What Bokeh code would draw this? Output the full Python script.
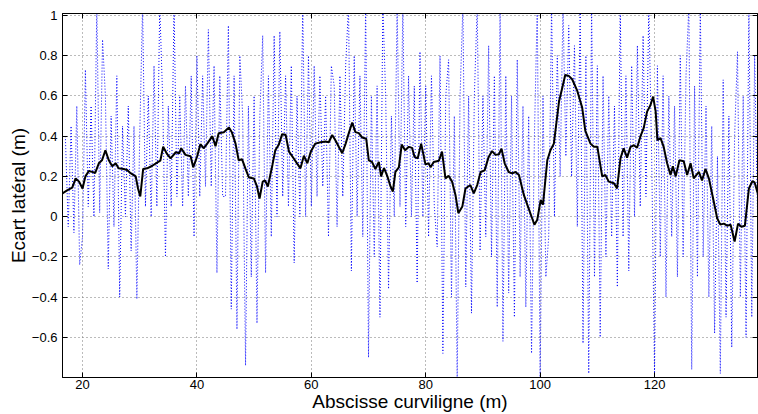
from bokeh.plotting import figure
from bokeh.models import Range1d, LinearAxis, FixedTicker
from bokeh.embed import file_html
from bokeh.resources import INLINE

# Smoothed lateral deviation (black solid)
bx = [16.5, 17.3, 18.2, 18.8, 19.4, 20.0, 20.5, 21.1, 22.0, 22.2, 22.85, 23.4, 24.0, 24.6, 25.2, 25.8,
      26.3, 27.2, 27.8, 28.4, 29.3, 29.7, 30.1, 30.6, 31.3, 32.2, 33.1, 33.6, 34.1, 34.7, 35.4, 36.3,
      36.9, 37.25, 38.0, 38.9, 39.35, 40.05, 40.6, 41.2, 41.8, 42.7, 43.25, 43.8, 44.7, 45.6, 46.1,
      46.75, 47.3, 47.9, 48.5, 49.1, 49.95, 50.5, 50.95, 51.5, 51.9, 52.4, 53.2, 53.7, 54.3, 54.9,
      55.5, 56.1, 56.9, 57.5, 58.1, 58.7, 59.3, 59.9, 60.7, 61.6, 62.5, 63.05, 63.65, 64.2, 64.8,
      65.4, 66.0, 66.55, 67.15, 67.7, 68.3, 68.9, 69.6, 70.05, 70.6, 71.2, 71.8, 72.2, 72.7, 73.3,
      73.85, 74.25, 74.7, 75.3, 75.8, 76.4, 77.05, 77.6, 78.05, 78.6, 79.2, 79.95, 80.5, 80.85, 81.4,
      82.3, 82.85, 83.45, 84.0, 84.6, 85.2, 85.7, 86.4, 86.95, 87.8, 88.4, 89.0, 89.6, 90.3, 91.0,
      91.6, 92.2, 92.8, 93.25, 93.8, 94.5, 95.1, 95.7, 96.3, 97.15, 98.0, 98.6, 99.0, 99.5, 100.1,
      100.5, 101.25, 101.8, 102.4, 103.3, 103.85, 104.4, 105.0, 105.6, 106.5, 107.35, 107.9, 108.8,
      109.4, 110.0, 110.85, 111.4, 112.0, 112.9, 113.45, 114.05, 114.6, 115.2, 115.8, 116.4, 116.95,
      117.55, 118.1, 118.7, 119.3, 119.75, 120.2, 120.5, 121.05, 121.6, 122.2, 122.8, 123.2, 123.7,
      124.35, 125.1, 125.7, 126.3, 126.85, 127.75, 128.3, 128.9, 129.5, 130.35, 130.95, 131.5,
      132.1, 132.7, 133.3, 134.0, 134.6, 135.2, 135.8, 136.5, 137.1, 137.5, 138.1]
by = [0.116, 0.13, 0.144, 0.19, 0.174, 0.14, 0.2, 0.227, 0.22, 0.216, 0.265, 0.28, 0.33, 0.28, 0.25,
      0.265, 0.24, 0.237, 0.232, 0.216, 0.2, 0.14, 0.1, 0.237, 0.24, 0.253, 0.27, 0.278, 0.348, 0.315,
      0.29, 0.32, 0.315, 0.34, 0.307, 0.3, 0.245, 0.3, 0.36, 0.34, 0.363, 0.4, 0.35, 0.415, 0.42,
      0.443, 0.42, 0.363, 0.28, 0.285, 0.237, 0.194, 0.19, 0.15, 0.09, 0.174, 0.18, 0.15, 0.257, 0.33,
      0.357, 0.41, 0.407, 0.323, 0.29, 0.265, 0.24, 0.303, 0.265, 0.323, 0.363, 0.37, 0.373, 0.37,
      0.406, 0.38, 0.347, 0.315, 0.363, 0.415, 0.468, 0.42, 0.415, 0.393, 0.387, 0.28, 0.272, 0.237,
      0.272, 0.2, 0.242, 0.2, 0.15, 0.124, 0.222, 0.245, 0.358, 0.33, 0.347, 0.342, 0.297, 0.29, 0.363,
      0.26, 0.265, 0.245, 0.272, 0.278, 0.323, 0.19, 0.203, 0.174, 0.108, 0.017, 0.05, 0.14, 0.157,
      0.116, 0.157, 0.222, 0.23, 0.297, 0.326, 0.307, 0.31, 0.338, 0.265, 0.222, 0.215, 0.222, 0.207,
      0.108, 0.04, -0.008, -0.04, -0.015, 0.083, 0.06, 0.28, 0.33, 0.363, 0.572, 0.638, 0.705, 0.7,
      0.683, 0.625, 0.542, 0.426, 0.363, 0.347, 0.347, 0.2, 0.207, 0.174, 0.166, 0.14, 0.29, 0.34,
      0.293, 0.347, 0.355, 0.342, 0.4, 0.44, 0.522, 0.555, 0.597, 0.522, 0.38, 0.39, 0.347, 0.265,
      0.207, 0.25, 0.2, 0.28, 0.275, 0.207, 0.265, 0.19, 0.222, 0.18, 0.237, 0.19, 0.075, -0.008,
      -0.04, -0.035, -0.045, -0.04, -0.124, -0.035, -0.05, -0.045, 0.14, 0.176, 0.17, 0.11]

# Raw lateral deviation (blue dotted), one value every 0.5 m from 17 m
raw_start = 17.0
raw_step = 0.5
raw = [0.40, -0.05, 0.45, -0.08, 0.55, -0.24, -0.10, 0.73, 0.05, 0.55,
       0.00, 1.05, 0.02, 0.88, 0.60, -0.26, 0.50, -0.05, 0.70, -0.40,
       0.45, 0.00, 0.55, -0.17, 0.45, -0.41, 0.40, 1.05, 0.05, 0.60,
       0.00, 0.75, 0.05, 1.05, 0.60, -0.20, 0.55, 0.05, 1.05, 0.10,
       0.60, 0.05, 0.65, 0.10, 0.70, -0.10, 0.80, 0.10, 0.70, 0.15,
       0.93, 0.15, 0.75, -0.28, 0.70, 0.10, 0.10, 0.95, -0.46, 0.70,
       -0.56, 0.80, 0.50, -0.74, 0.55, -0.30, 0.60, -0.53, 0.50, 0.90,
       -0.28, 0.70, -0.10, 0.90, 0.00, 0.92, 0.10, 0.70, 0.05, 0.75,
       -0.23, 0.60, 0.00, 1.05, 0.00, 0.80, 0.05, 0.75, 0.10, 0.70,
       0.15, 0.60, -0.10, 0.75, 0.65, -0.05, 0.70, 0.10, 0.75, 1.05,
       -0.27, 0.80, 0.00, 0.70, -0.10, 1.05, -0.70, 0.60, -0.20, 0.65,
       -0.50, 1.05, 0.60, -0.36, 0.50, 0.00, 1.05, 0.05, 1.05, -0.05,
       0.70, 0.00, 0.65, -0.33, 0.82, 0.00, 0.65, -0.10, 0.70, 0.05,
       -0.15, 0.80, -0.68, 0.60, 0.78, -0.40, 0.50, -0.82, 0.60, 1.05,
       -0.35, 0.60, -0.48, 0.60, 1.05, -0.17, 0.60, -0.10, 0.85, -0.20,
       0.70, -0.45, 1.05, -0.62, 0.70, -0.38, 0.60, -0.50, 0.78, -0.30,
       0.55, -0.45, 0.50, -0.68, 0.40, 1.05, -0.82, 0.60, -0.30, -0.10,
       1.05, 0.00, 0.80, 0.20, 1.05, 0.30, 0.95, 0.20, 0.85, -0.05,
       1.05, -0.63, 0.80, -0.78, 1.05, -0.30, 0.75, -0.60, 0.70, -0.20,
       0.60, -0.10, 0.55, -0.35, 1.05, -0.10, 0.70, -0.27, 0.75, 0.00,
       0.85, 0.05, 0.90, 0.10, 1.05, 0.30, -0.78, 0.75, -0.20, 0.70,
       -0.40, 0.60, -0.10, 0.55, -0.30, 0.80, -0.20, 0.70, 1.05, -0.76,
       0.65, -0.30, 1.05, -0.20, 0.55, -0.40, 0.45, -0.58, 0.30, -0.78,
       0.68, -0.50, 0.50, -0.65, 0.40, 0.82, -0.40, 0.60, -0.60, 1.05,
       -0.50, 0.80, 0.00]
raw_x = [raw_start + raw_step * i for i in range(len(raw))]

x_ticks = [20, 40, 60, 80, 100, 120]
y_ticks = [-0.6, -0.4, -0.2, 0, 0.2, 0.4, 0.6, 0.8, 1]
y_labels = {-0.6: "\u22120.6", -0.4: "\u22120.4", -0.2: "\u22120.2", 0: "0",
            0.2: "0.2", 0.4: "0.4", 0.6: "0.6", 0.8: "0.8", 1: "1"}

FONT = "Liberation Sans"

p = figure(width=758, height=414, output_backend="svg", toolbar_location=None,
           x_range=Range1d(16.5, 138.0), y_range=Range1d(-0.8, 1.01),
           min_border_left=62, min_border_right=1, min_border_top=13, min_border_bottom=0)

p.line(raw_x, raw, line_color="#0000ff", line_width=1, line_dash="1 2")
p.line(bx, by, line_color="black", line_width=2)

p.outline_line_color = "black"
p.outline_line_width = 1
p.background_fill_color = "white"

for ax in (p.xaxis[0], p.yaxis[0]):
    ax.major_tick_in = 5
    ax.major_tick_out = 0
    ax.minor_tick_in = 0
    ax.minor_tick_out = 0
    ax.axis_line_color = "black"
    ax.major_tick_line_color = "black"
    ax.major_label_text_font = FONT
    ax.major_label_text_font_size = "13px"
    ax.major_label_text_color = "black"
    ax.axis_label_text_font = FONT
    ax.axis_label_text_font_size = "19px"
    ax.axis_label_text_font_style = "normal"
    ax.axis_label_text_color = "black"

p.xaxis[0].ticker = FixedTicker(ticks=x_ticks)
p.yaxis[0].ticker = FixedTicker(ticks=y_ticks)
p.yaxis[0].major_label_overrides = y_labels
p.xaxis[0].axis_label = "Abscisse curviligne (m)"
p.yaxis[0].axis_label = "Ecart latéral (m)"
p.xaxis[0].major_label_standoff = 2
p.xaxis[0].axis_label_standoff = -1
p.yaxis[0].major_label_standoff = 5
p.yaxis[0].axis_label_standoff = 0

top = LinearAxis(ticker=FixedTicker(ticks=x_ticks),
                 major_label_overrides={t: "" for t in x_ticks},
                 major_tick_in=5, major_tick_out=0, minor_tick_in=0, minor_tick_out=0,
                 major_label_standoff=0)
right = LinearAxis(ticker=FixedTicker(ticks=y_ticks),
                   major_label_overrides={t: "" for t in y_ticks},
                   major_tick_in=5, major_tick_out=0, minor_tick_in=0, minor_tick_out=0,
                   major_label_standoff=0)
p.add_layout(top, "above")
p.add_layout(right, "right")

p.xgrid[0].ticker = FixedTicker(ticks=x_ticks)
p.ygrid[0].ticker = FixedTicker(ticks=y_ticks)
for g in (p.xgrid[0], p.ygrid[0]):
    g.grid_line_color = "#777777"
    g.grid_line_dash = "1 3"
    g.grid_line_width = 1

open("out.html", "w").write(file_html(p, INLINE))
